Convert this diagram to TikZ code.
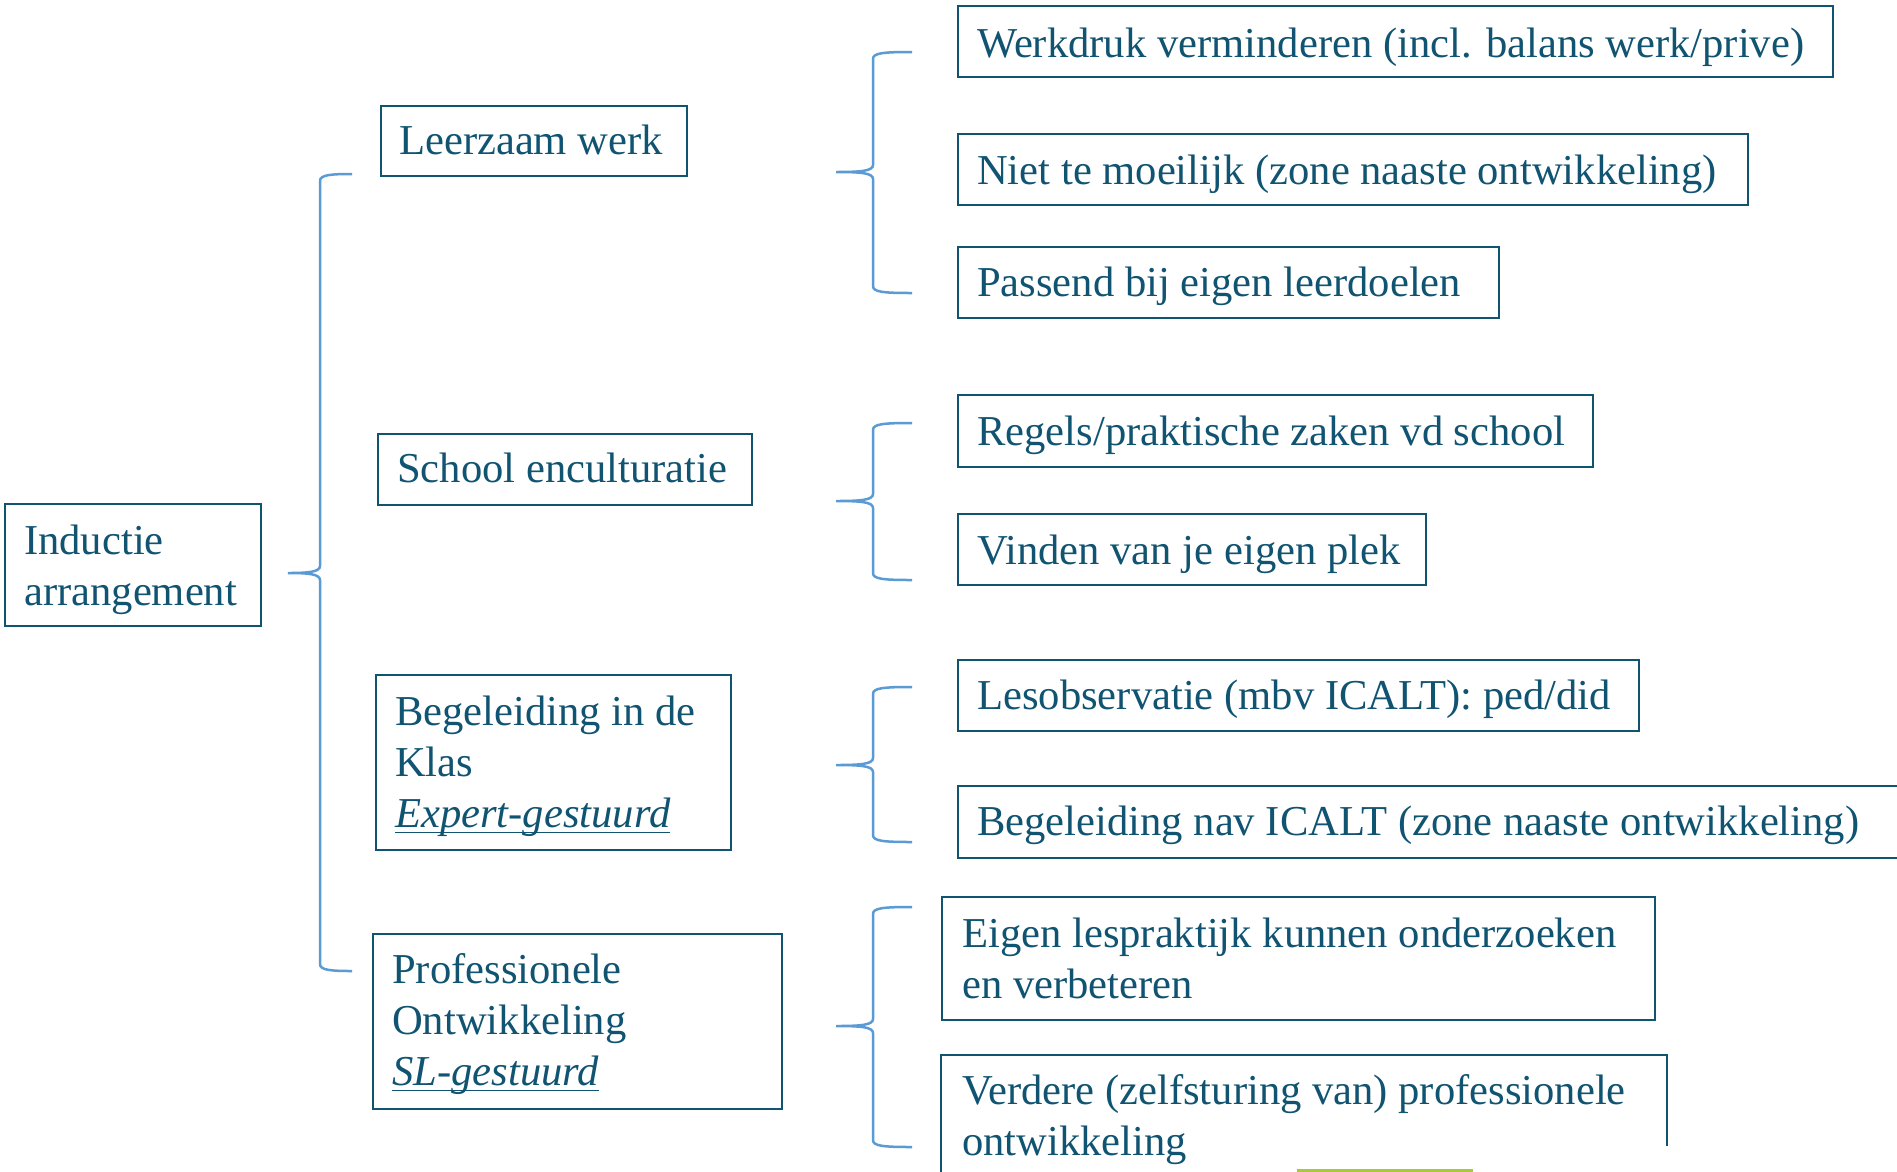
\documentclass[tikz,border=0pt]{standalone}
\usepackage{fontspec}
\setmainfont{Liberation Serif}
\usetikzlibrary{calc}
\definecolor{tealtxt}{RGB}{16,84,114}
\definecolor{bracec}{RGB}{91,155,213}
\definecolor{greenbar}{RGB}{170,200,60}
\newcommand\ulx[1]{\setbox0\hbox{#1}\rlap{\rule[-6pt]{\wd0}{1.5pt}}\box0}
% xv xe xt yt ym yb
\newcommand\drawbrc[6]{%
 \draw[brc] (#2,#4) .. controls ({#1+10},#4) and (#1,{#4+1}) .. (#1,{#4+7})
   -- (#1,{#5-7}) .. controls (#1,{#5-1}) and ({#1-12},#5) .. (#3,#5)
   .. controls ({#1-12},#5) and (#1,{#5+1}) .. (#1,{#5+7})
   -- (#1,{#6-7}) .. controls (#1,{#6-1}) and ({#1+10},#6) .. (#2,#6);}
\begin{document}
\begin{tikzpicture}[x=1pt,y=-1pt,
  box/.style={draw=tealtxt, line width=2pt, inner sep=0pt, anchor=north west},
  txt/.style={text=tealtxt, inner sep=0pt, anchor=base west, font=\fontsize{42.6}{51}\selectfont},
  brc/.style={draw=bracec, line width=2.5pt}]
\useasboundingbox (0,0) rectangle (1897,1171);
\clip (0,0) rectangle (1897,1171);
\fill[white] (0,0) rectangle (1897,1171);

% level 0
\node[box, minimum width=256pt, minimum height=122pt] (ind) at (4,503) {};
\node[txt] (indt) at (24,554) {\begin{tabular}[t]{@{}l@{}}Inductie\\arrangement\end{tabular}};

% level 1
\node[box, minimum width=306pt, minimum height=70pt] (lz) at (380,105) {};
\node[txt] (lzt) at (399,154) {Leerzaam werk};
\node[box, minimum width=374pt, minimum height=71pt] (se) at (377,433) {};
\node[txt] (set) at (397,482) {School enculturatie};
\node[box, minimum width=355pt, minimum height=175pt] (bk) at (375,674) {};
\node[txt] (bkt) at (395,725) {\begin{tabular}[t]{@{}l@{}}Begeleiding in de\\Klas\\\textit{\ulx{Expert-gestuurd}}\end{tabular}};
\node[box, minimum width=409pt, minimum height=175pt] (po) at (372,933) {};
\node[txt] (pot) at (392,983) {\begin{tabular}[t]{@{}l@{}}Professionele\\Ontwikkeling\\\textit{\ulx{SL-gestuurd}}\end{tabular}};

% level 2
\node[box, minimum width=875pt, minimum height=71pt] (w1) at (957,5) {};
\node[txt] (w1t) at (977,57) {Werkdruk verminderen (incl. balans werk/prive)};
\node[box, minimum width=790pt, minimum height=71pt] (w2) at (957,133) {};
\node[txt] (w2t) at (977,184) {Niet te moeilijk (zone naaste ontwikkeling)};
\node[box, minimum width=541pt, minimum height=71pt] (w3) at (957,246) {};
\node[txt] (w3t) at (977,296) {Passend bij eigen leerdoelen};

\node[box, minimum width=635pt, minimum height=72pt] (s1) at (957,394) {};
\node[txt] (s1t) at (977,445) {Regels/praktische zaken vd school};
\node[box, minimum width=468pt, minimum height=71pt] (s2) at (957,513) {};
\node[txt] (s2t) at (977,564) {Vinden van je eigen plek};

\node[box, minimum width=681pt, minimum height=71pt] (b1) at (957,659) {};
\node[txt] (b1t) at (977,709) {Lesobservatie (mbv ICALT): ped/did};
\node[box, minimum width=960pt, minimum height=72pt] (b2) at (957,785) {};
\node[txt] (b2t) at (977,835) {Begeleiding nav ICALT (zone naaste ontwikkeling)};

\node[box, minimum width=713pt, minimum height=123pt] (p1) at (941,896) {};
\node[txt] (p1t) at (962,947) {\begin{tabular}[t]{@{}l@{}}Eigen lespraktijk kunnen onderzoeken\\en verbeteren\end{tabular}};
\node[box, draw=none, minimum width=724pt, minimum height=150pt] (p2) at (941,1055) {};
\draw[draw=tealtxt, line width=2pt] (p2.south west) -- (p2.north west) -- (p2.north east) -- ($(p2.north east)+(0,91)$);
\node[txt] (p2t) at (962,1104) {\begin{tabular}[t]{@{}l@{}}Verdere (zelfsturing van) professionele\\ontwikkeling\end{tabular}};

% braces
\drawbrc{320}{352}{288}{174}{573}{971}
\drawbrc{873}{912}{836}{52}{172}{293}
\drawbrc{873}{912}{836}{423}{501}{580}
\drawbrc{873}{912}{836}{687}{765}{842}
\drawbrc{873}{912}{836}{907}{1026}{1147}

\fill[greenbar] (1297,1168.5) rectangle (1473,1173);
\end{tikzpicture}
\end{document}
